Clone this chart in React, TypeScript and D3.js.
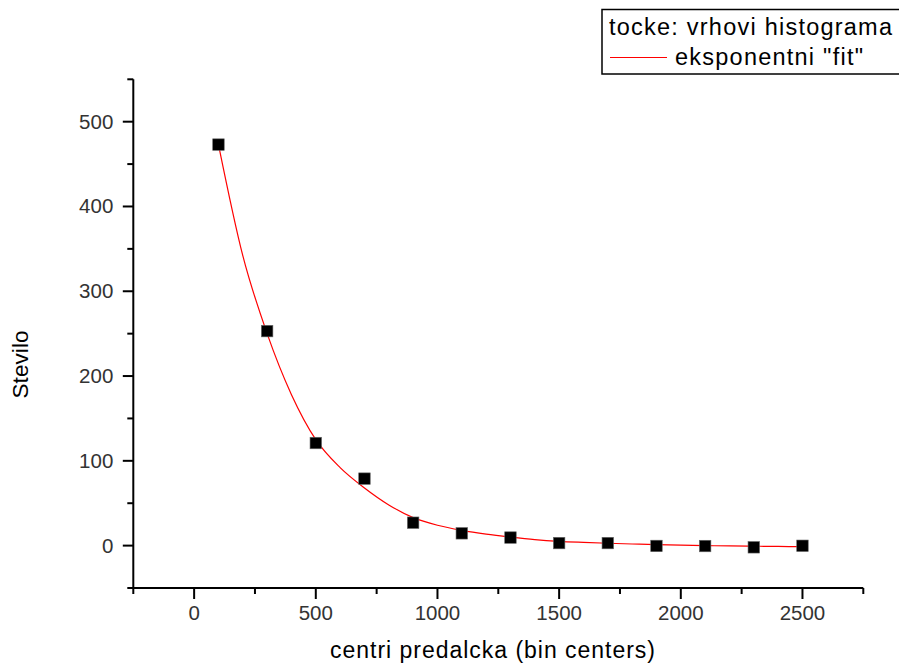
import React from 'react';
import * as d3 from 'd3';

// histogram peaks (tocke: vrhovi histograma)
const binCenters = [100, 300, 500, 700, 900, 1100, 1300, 1500, 1700, 1900, 2100, 2300, 2500];
const peakCounts = [473, 253, 121, 79, 27, 14.5, 9.5, 3, 3, -0.4, -0.5, -2, -0.2];

// exponential fit, every 100 units
const fitX = [100, 200, 300, 400, 500, 600, 700, 800, 900, 1000, 1100, 1200, 1300,
  1400, 1500, 1600, 1700, 1800, 1900, 2000, 2100, 2200, 2300, 2400, 2500];
const fitY = [473, 342, 250, 178, 125, 92, 68, 48, 33, 24, 18, 13.5, 10,
  7, 5, 3.8, 2.8, 1.9, 1.1, 0.5, 0, -0.4, -0.7, -1, -1.2];

const xTickValues = [0, 500, 1000, 1500, 2000, 2500];
const yTickValues = [0, 100, 200, 300, 400, 500];

const xTitle = 'centri predalcka (bin centers)';
const yTitle = 'Stevilo';
const legendPoints = 'tocke: vrhovi histograma';
const legendFit = 'eksponentni "fit"';

const W = 899;
const H = 664;
const font = '"Liberation Sans", Arial, sans-serif';

export default function App() {
  const x = d3.scaleLinear().domain([-250, 2750]).range([133.3, 863.3]);
  const y = d3.scaleLinear().domain([-50, 550]).range([588, 79.3]);

  const xMinor = d3.range(-250, 2751, 500);
  const yMinor = d3.range(-50, 551, 100);

  const line = d3
    .line<number>()
    .x((d, i) => x(fitX[i]))
    .y((d) => y(d))
    .curve(d3.curveMonotoneX);

  const left = x.range()[0];
  const bottom = y.range()[0];
  const ms = 11.5; // marker size

  return (
    <svg width={W} height={H} style={{ position: 'absolute', left: 0, top: 0, background: '#fff' }} fontFamily={font}>
      <rect width={W} height={H} fill="#fff" />

      {/* axes */}
      <line x1={left} x2={left} y1={y.range()[1]} y2={bottom} stroke="#000" strokeWidth={2} />
      <line x1={left} x2={x.range()[1]} y1={bottom} y2={bottom} stroke="#000" strokeWidth={2} />

      {xTickValues.map((t) => (
        <g key={'xt' + t}>
          <line x1={x(t)} x2={x(t)} y1={bottom} y2={bottom + 11} stroke="#000" strokeWidth={2} />
          <text x={x(t)} y={bottom + 32} textAnchor="middle" fontSize={20.5} fill="#333">{t}</text>
        </g>
      ))}
      {xMinor.map((t) => (
        <line key={'xm' + t} x1={x(t)} x2={x(t)} y1={bottom} y2={bottom + 6} stroke="#000" strokeWidth={2} />
      ))}

      {yTickValues.map((t) => (
        <g key={'yt' + t}>
          <line x1={left - 10.5} x2={left} y1={y(t)} y2={y(t)} stroke="#000" strokeWidth={2} />
          <text x={left - 20} y={y(t) + 7} textAnchor="end" fontSize={20.5} fill="#333">{t}</text>
        </g>
      ))}
      {yMinor.map((t) => (
        <line key={'ym' + t} x1={left - 6} x2={left} y1={y(t)} y2={y(t)} stroke="#000" strokeWidth={2} />
      ))}

      {/* axis titles */}
      <text x={492.5} y={658} textAnchor="middle" fontSize={23} fill="#000" textLength={325} lengthAdjust="spacing">
        {xTitle}
      </text>
      <text
        transform="translate(27.5,364.5) rotate(-90)"
        textAnchor="middle"
        fontSize={22.5}
        fill="#000"
        textLength={68}
        lengthAdjust="spacing"
      >
        {yTitle}
      </text>

      {/* exponential fit */}
      <path d={line(fitY) || ''} fill="none" stroke="#ff0000" strokeWidth={1.2} />

      {/* points */}
      {binCenters.map((c, i) => (
        <rect
          key={'p' + c}
          x={x(c) - ms / 2}
          y={y(peakCounts[i]) - ms / 2}
          width={ms}
          height={ms}
          fill="#000"
          stroke="#666"
          strokeWidth={0.6}
        />
      ))}

      {/* legend */}
      <rect x={602} y={9.5} width={300} height={64.5} fill="#fff" stroke="#000" strokeWidth={1.5} />
      <text x={609} y={35} fontSize={23.5} fill="#000" textLength={283} lengthAdjust="spacing">{legendPoints}</text>
      <line x1={610} x2={667} y1={57.5} y2={57.5} stroke="#ff0000" strokeWidth={1.2} />
      <text x={675} y={65} fontSize={23.5} fill="#000" textLength={188} lengthAdjust="spacing">{legendFit}</text>
    </svg>
  );
}
